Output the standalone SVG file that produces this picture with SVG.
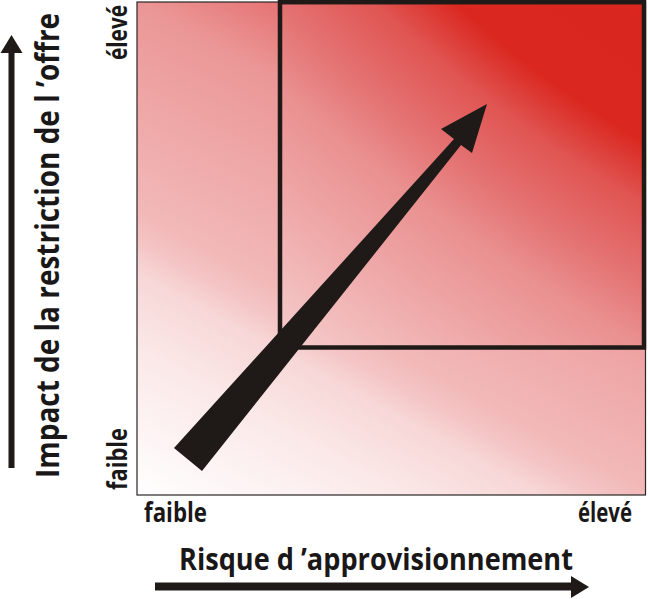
<svg xmlns="http://www.w3.org/2000/svg" width="648" height="599" viewBox="0 0 648 599">
<style>
.lbl{font-family:"Open Sans","Liberation Sans",sans-serif;font-weight:bold;fill:#1a1718}
.ax{font-size:31px}
.big{font-size:32px}
.tk{font-size:26px}
.ink{fill:#1f1a17}
</style>
<defs>
<linearGradient id="bgOuter" gradientUnits="userSpaceOnUse" x1="137" y1="495" x2="463" y2="-98">
<stop offset="0" stop-color="#ffffff"/>
<stop offset="0.19" stop-color="#fbe8e8"/>
<stop offset="0.29" stop-color="#f7d6d6"/>
<stop offset="0.33" stop-color="#f4c4c4"/>
<stop offset="0.37" stop-color="#f2b8b8"/>
<stop offset="0.54" stop-color="#eea3a3"/>
<stop offset="0.64" stop-color="#eb9696"/>
<stop offset="0.73" stop-color="#e67676"/>
<stop offset="1" stop-color="#df5050"/>
</linearGradient>
<radialGradient id="bgInner" gradientUnits="userSpaceOnUse" cx="0" cy="0" r="1" gradientTransform="translate(660,-40) rotate(35) scale(1400,560)">
<stop offset="0" stop-color="#d9251d"/>
<stop offset="0.29" stop-color="#da2820"/>
<stop offset="0.385" stop-color="#e05552"/>
<stop offset="0.5" stop-color="#e47272"/>
<stop offset="0.6" stop-color="#ea9090"/>
<stop offset="0.78" stop-color="#f0aeae"/>
<stop offset="0.95" stop-color="#f5cccc"/>
<stop offset="1" stop-color="#f6d0d0"/>
</radialGradient>
</defs>
<g id="matrix">
<rect x="137" y="2" width="508.5" height="493" fill="url(#bgOuter)" stroke="#2a2526" stroke-width="1.2"/>
</g>
<g id="zone-critique">
<rect x="280" y="2.2" width="364" height="345.3" fill="url(#bgInner)" stroke="#1f1a17" stroke-width="4.5"/>
</g>
<g id="connectors">
<polygon class="ink" points="174,448 454,139 441,129 487,104 472,153 461,145 202,471"/>
<g id="axis-y">
<rect class="ink" x="8.5" y="52" width="6" height="416"/>
<polygon class="ink" points="11.5,35 0.5,53 22.5,53"/>
</g>
<g id="axis-x">
<rect class="ink" x="155" y="582.5" width="418" height="8"/>
<polygon class="ink" points="589,587 571,576 571,598"/>
</g>
</g>
<g id="labels">
<text class="lbl big" transform="translate(59,478) rotate(-90) scale(0.886,1)" textLength="525" lengthAdjust="spacingAndGlyphs">Impact de la restriction de l ’offre</text>
<text class="lbl ax" transform="translate(179,570) scale(0.864,1)" textLength="456" lengthAdjust="spacingAndGlyphs">Risque d ’approvisionnement</text>
<text class="lbl tk" transform="translate(144,522) scale(0.87,1)" textLength="72.4" lengthAdjust="spacingAndGlyphs">faible</text>
<text class="lbl tk" transform="translate(578,522) scale(0.81,1)" textLength="66.7" lengthAdjust="spacingAndGlyphs">élevé</text>
<text class="lbl tk" transform="translate(127,490) rotate(-90) scale(0.87,1)" textLength="71.3" lengthAdjust="spacingAndGlyphs">faible</text>
<text class="lbl tk" transform="translate(127,60) rotate(-90) scale(0.81,1)" textLength="67.9" lengthAdjust="spacingAndGlyphs">élevé</text>
</g>
</svg>
